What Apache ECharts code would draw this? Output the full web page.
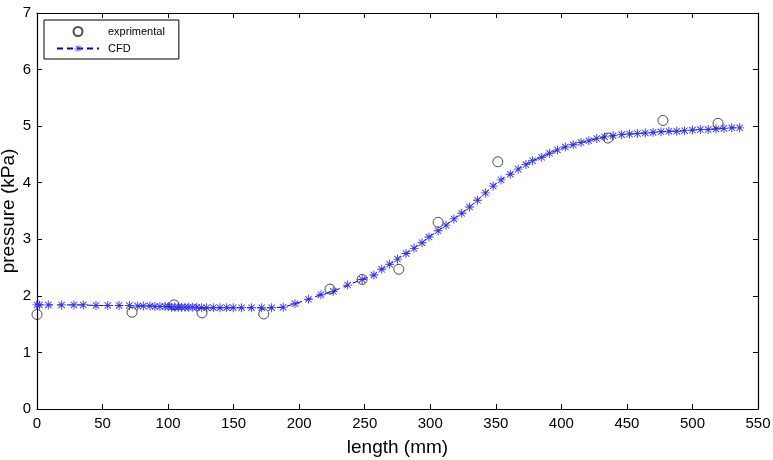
<!DOCTYPE html>
<html>
<head>
<meta charset="utf-8">
<script src="https://cdn.jsdelivr.net/npm/echarts@6/dist/echarts.min.js"></script>
<style>
  html, body { margin: 0; padding: 0; background: #fff; }
  #chart { width: 773px; height: 460px; }
</style>
</head>
<body>
<div id="chart"></div>
<script>
// experimental points
const expX = [0, 72.5, 104.5, 125.9, 173, 223.5, 248, 276, 306, 351.5, 435.5, 477.5, 519.5];
const expY = [1.67, 1.71, 1.84, 1.70, 1.68, 2.12, 2.29, 2.47, 3.30, 4.37, 4.79, 5.10, 5.05];

// CFD curve
const cfdX = [0, 1.8, 8.6, 18.8, 28.2, 35.3, 45, 54, 62.6, 70.5, 76.8, 81.1, 86.2, 90, 93.8, 97.6,
  100.1, 102.7, 105.2, 107.7, 110.3, 112.9, 115.4, 118.8, 121.8, 125.6, 129.4, 134.5, 139.6, 144.7,
  149.7, 156.1, 163.7, 171.4, 179, 187.8, 196.8, 207, 216.6, 226, 237, 248, 257, 263, 269, 275,
  281.5, 287.6, 293.7, 299, 306, 312, 318, 324, 330, 336, 342, 348, 354, 361, 367, 373, 378, 385,
  391, 397, 403, 409, 415, 421, 427, 433, 439.5, 446, 452, 458, 464, 470, 476, 482, 488, 494, 500,
  506, 512, 518, 524, 530, 536];
const cfdY = [1.84, 1.84, 1.84, 1.84, 1.84, 1.84, 1.83, 1.83, 1.83, 1.83, 1.82, 1.82, 1.82, 1.81, 1.81, 1.81,
  1.81, 1.80, 1.80, 1.80, 1.80, 1.80, 1.80, 1.80, 1.80, 1.79, 1.79, 1.79, 1.79, 1.79,
  1.79, 1.79, 1.79, 1.79, 1.79, 1.80, 1.86, 1.94, 2.02, 2.08, 2.19, 2.29, 2.37, 2.47, 2.56, 2.65,
  2.75, 2.84, 2.94, 3.04, 3.15, 3.25, 3.36, 3.46, 3.57, 3.69, 3.82, 3.94, 4.05, 4.15, 4.24, 4.32, 4.39, 4.45,
  4.52, 4.58, 4.63, 4.67, 4.71, 4.74, 4.78, 4.81, 4.83, 4.85, 4.86, 4.87, 4.88, 4.89, 4.90, 4.91, 4.91, 4.92, 4.93,
  4.94, 4.94, 4.95, 4.96, 4.97, 4.97];

const xTicks = { min: 0, max: 550, interval: 50 };
const yTicks = { min: 0, max: 7, interval: 1 };

// asterisk marker, 4 thin bars
const star = 'path://M0 9H20V11H0Z M9 0H11V20H9Z M2.2 3.6L3.6 2.2L17.8 16.4L16.4 17.8Z M16.4 2.2L17.8 3.6L3.6 17.8L2.2 16.4Z';

const font = 'Liberation Sans, Arial, sans-serif';
const axisCommon = {
  axisLine: { show: true, onZero: false, lineStyle: { color: '#000', width: 1.2 } },
  axisTick: { show: true, inside: true, length: 5, lineStyle: { color: '#000' } },
  splitLine: { show: false }
};

const chart = echarts.init(document.getElementById('chart'));
chart.setOption({
  animation: false,
  backgroundColor: '#fff',
  grid: { left: 37, right: 15, top: 13, bottom: 51, outerBoundsMode: 'none', containLabel: false },
  legend: {
    orient: 'vertical',
    left: 44,
    top: 20,
    padding: [6, 14, 5, 12],
    itemGap: 6,
    itemWidth: 42,
    itemHeight: 9,
    backgroundColor: '#fff',
    borderColor: '#000',
    borderWidth: 1,
    borderRadius: 0,
    textStyle: { fontFamily: font, fontSize: 11, color: '#000', padding: [0, 0, 0, 4] },
    data: ['exprimental', 'CFD']
  },
  xAxis: [
    Object.assign({
      type: 'value', position: 'bottom',
      min: xTicks.min, max: xTicks.max, interval: xTicks.interval,
      name: 'length (mm)', nameLocation: 'middle', nameGap: 29, nameMoveOverlap: false,
      nameTextStyle: { fontFamily: font, fontSize: 19, color: '#000' },
      axisLabel: { fontFamily: font, fontSize: 15, color: '#000', margin: 7 }
    }, axisCommon),
    Object.assign({
      type: 'value', position: 'top',
      min: xTicks.min, max: xTicks.max, interval: xTicks.interval,
      axisLabel: { show: false }
    }, axisCommon)
  ],
  yAxis: [
    Object.assign({
      type: 'value', position: 'left',
      min: yTicks.min, max: yTicks.max, interval: yTicks.interval,
      name: 'pressure (kPa)', nameLocation: 'middle', nameGap: 19, nameMoveOverlap: false,
      nameTextStyle: { fontFamily: font, fontSize: 19, color: '#000' },
      axisLabel: { fontFamily: font, fontSize: 15, color: '#000', margin: 6 }
    }, axisCommon),
    Object.assign({
      type: 'value', position: 'right',
      min: yTicks.min, max: yTicks.max, interval: yTicks.interval,
      axisLabel: { show: false }
    }, axisCommon)
  ],
  series: [
    {
      name: 'exprimental',
      type: 'scatter',
      symbol: 'circle',
      symbolSize: 10,
      itemStyle: { color: 'transparent', borderColor: '#222', borderWidth: 1 },
      data: expX.map((x, i) => [x, expY[i]]),
      z: 3
    },
    {
      name: 'CFD',
      type: 'line',
      symbol: star,
      symbolSize: 9,
      showAllSymbol: true,
      itemStyle: { color: '#3030ff' },
      lineStyle: { color: '#0000cc', width: 1, type: [6, 4] },
      data: cfdX.map((x, i) => [x, cfdY[i]]),
      z: 2
    }
  ]
});
</script>
</body>
</html>
